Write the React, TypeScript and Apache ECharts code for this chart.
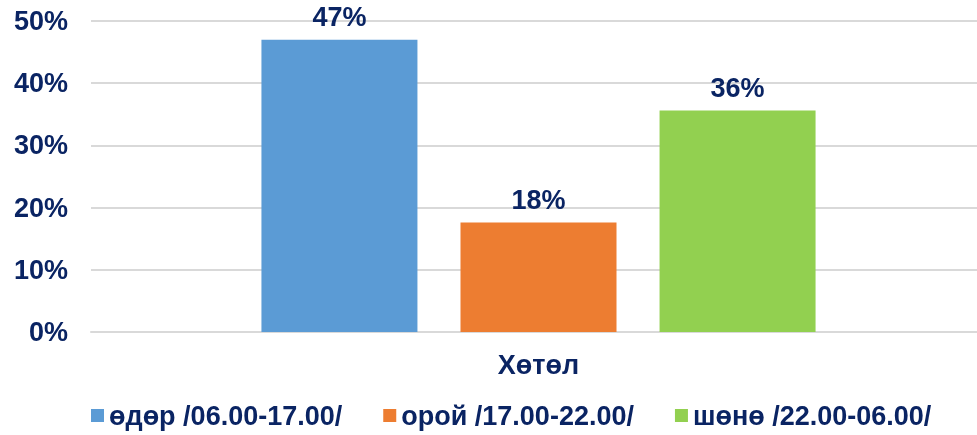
import React, { useEffect, useRef } from "react";
import * as echarts from "echarts";

const categories = ["Хөтөл"];
const seriesNames = ["өдөр /06.00-17.00/", "орой /17.00-22.00/", "шөнө /22.00-06.00/"];
const seriesValues = [[47.0], [17.6], [35.6]];
const seriesColors = ["#5B9BD5", "#ED7D31", "#92D050"];

const TEXT = "#0A2463";
const FONT = "'Liberation Sans', Arial, sans-serif";
const FS = 27;

export default function App() {
  const ref = useRef<HTMLDivElement>(null);
  useEffect(() => {
    if (!ref.current) return;
    const chart = echarts.init(ref.current, null, { renderer: "svg" });
    chart.setOption({
      animation: false,
      textStyle: { fontFamily: FONT },
      grid: { left: 91, right: 0, top: 21, bottom: 103, containLabel: false },
      legend: {
        bottom: 1,
        left: 86,
        itemWidth: 13,
        itemHeight: 13,
        itemGap: 41,
        icon: "rect",
        textStyle: { color: TEXT, fontSize: FS, fontWeight: "bold", fontFamily: FONT },
        data: seriesNames,
      },
      xAxis: {
        type: "category",
        data: categories,
        axisLine: { show: true, lineStyle: { color: "#D9D9D9", width: 2 } },
        axisTick: { show: false },
        axisLabel: { color: TEXT, fontSize: FS, fontWeight: "bold", margin: 19, fontFamily: FONT },
      },
      yAxis: {
        type: "value",
        min: 0,
        max: 50,
        interval: 10,
        axisLine: { show: false },
        axisTick: { show: false },
        splitLine: { lineStyle: { color: "#D9D9D9", width: 2 } },
        axisLabel: {
          color: TEXT,
          fontSize: FS,
          fontWeight: "bold",
          margin: 23,
          fontFamily: FONT,
          formatter: (v: number) => v + "%",
        },
      },
      series: seriesNames.map((name, i) => ({
        name,
        type: "bar",
        data: seriesValues[i],
        barWidth: 156,
        barGap: "27.6%",
        itemStyle: { color: seriesColors[i] },
        label: {
          show: true,
          position: "top",
          distance: 9,
          color: TEXT,
          fontSize: FS,
          fontWeight: "bold",
          fontFamily: FONT,
          formatter: (p: any) => Math.round(p.value) + "%",
        },
      })),
    });
    return () => chart.dispose();
  }, []);
  return (
    <div style={{ position: "fixed", left: 0, top: 0, width: 977, height: 435, overflow: "hidden" }}>
      <div ref={ref} style={{ width: 986, height: 435 }} />
    </div>
  );
}
